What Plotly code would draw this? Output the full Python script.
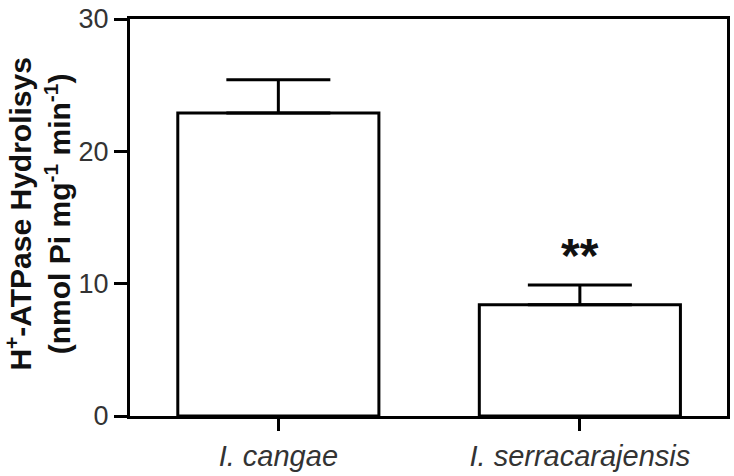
import plotly.graph_objects as go

categories = ["I. cangae", "I. serracarajensis"]
means = [22.9, 8.4]
errors_up = [2.5, 1.5]
y_ticks = [0, 10, 20, 30]
signif_text = "**"
signif_y = 10.0

FONT = "Liberation Sans, Arial, sans-serif"

fig = go.Figure()
fig.add_trace(go.Bar(
    x=categories,
    y=means,
    width=0.667,
    marker=dict(color="white", line=dict(color="black", width=3)),
    error_y=dict(type="data", symmetric=False, array=errors_up,
                 arrayminus=[0] * len(means), color="black",
                 thickness=3, width=52),
    showlegend=False,
))

fig.add_annotation(x=categories[1], y=signif_y, text=f"<b>{signif_text}</b>",
                   showarrow=False, yanchor="bottom",
                   font=dict(family=FONT, size=48, color="#111"))

fig.add_annotation(
    xref="paper", yref="paper", x=-0.154, y=0.51,
    text="<b>H<sup>+</sup>-ATPase Hydrolisys<br>(nmol Pi mg<sup>-1</sup> min<sup>-1</sup>)</b>",
    textangle=-90, showarrow=False, xanchor="center", yanchor="middle",
    font=dict(family=FONT, size=30, color="#111"),
)

fig.update_layout(
    width=734, height=476,
    margin=dict(l=130, r=4, t=19, b=53),
    paper_bgcolor="white", plot_bgcolor="white",
    font=dict(family=FONT, color="#222"),
    bargap=0.333,
)
fig.update_xaxes(
    range=[-0.492, 1.488],
    tickmode="array", tickvals=categories,
    ticktext=[f"<i>{c}</i>" for c in categories],
    tickfont=dict(family=FONT, size=29, color="#333"),
    ticks="outside", ticklen=12, tickwidth=3, tickcolor="black",
    showline=True, linecolor="black", linewidth=3, mirror=True,
    showgrid=False, zeroline=False,
)
fig.update_yaxes(
    range=[0, 30], tickvals=y_ticks,
    tickfont=dict(family=FONT, size=27, color="#333"),
    ticks="outside", ticklen=13, tickwidth=3, tickcolor="black",
    showline=True, linecolor="black", linewidth=3, mirror=True,
    showgrid=False, zeroline=False,
)

fig.write_html("out.html")
